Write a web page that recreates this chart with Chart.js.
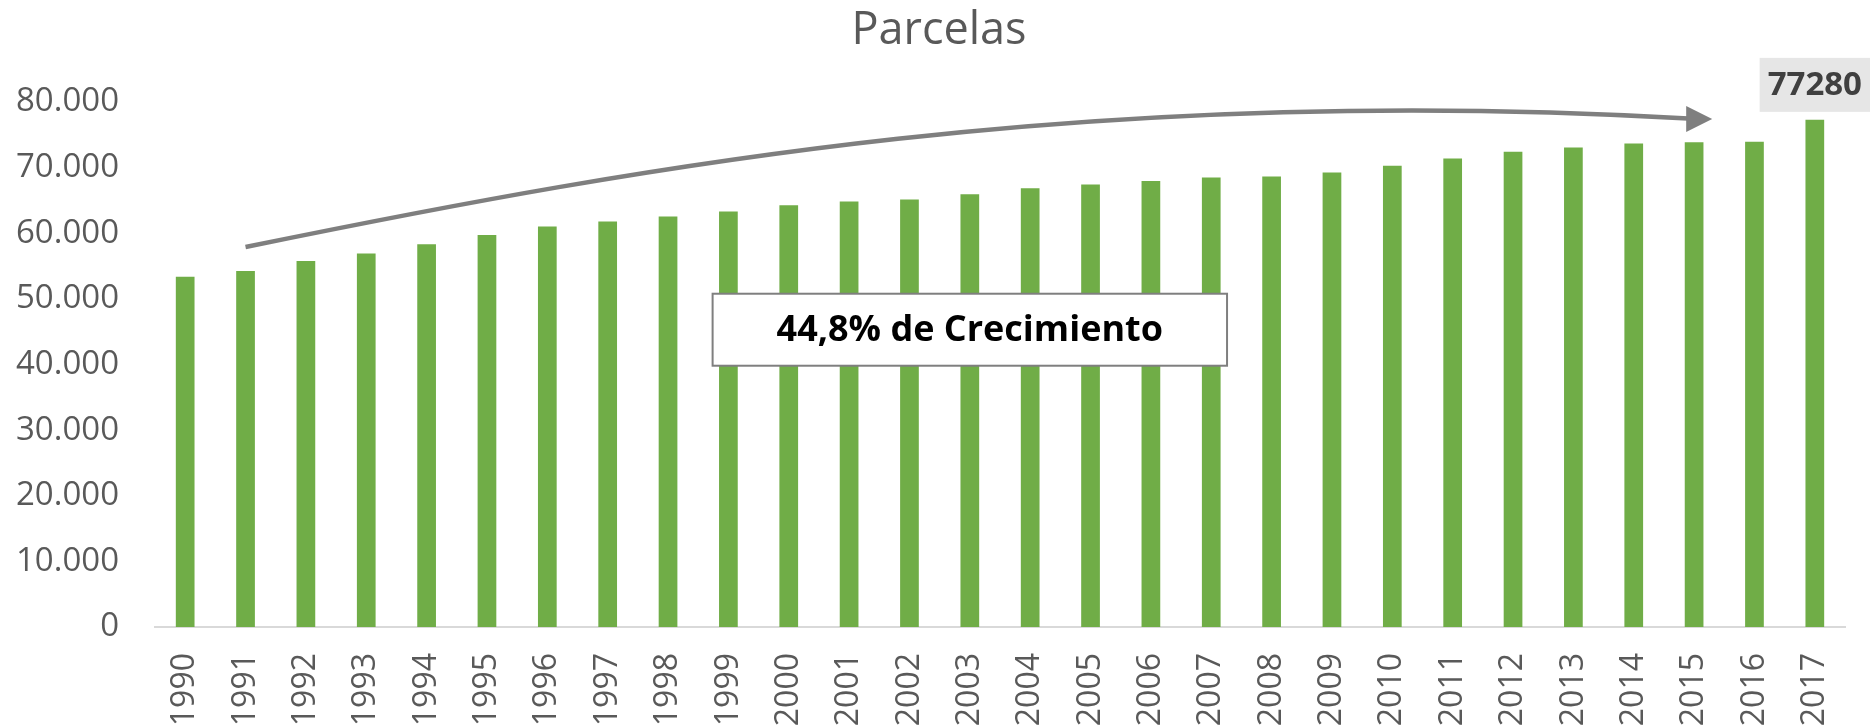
<!DOCTYPE html>
<html>
<head>
<meta charset="utf-8">
<script src="https://cdn.jsdelivr.net/npm/chart.js@4.4.1/dist/chart.umd.min.js"></script>
<style>
  html, body { margin: 0; padding: 0; background: #ffffff; }
  #wrap { width: 1870px; height: 727px; }
</style>
</head>
<body>
<div id="wrap"><canvas id="parcelasChart" width="1870" height="727"></canvas></div>
<script>
// Parcelas por año
const years = ['1990', '1991', '1992', '1993', '1994', '1995', '1996', '1997', '1998', '1999',
               '2000', '2001', '2002', '2003', '2004', '2005', '2006', '2007', '2008', '2009',
               '2010', '2011', '2012', '2013', '2014', '2015', '2016', '2017'];
const parcelas = [53370, 54240, 55770, 56900, 58320, 59740, 61020, 61790, 62550, 63310,
                  64270, 64840, 65140, 65950, 66870, 67430, 67980, 68500, 68650, 69270,
                  70280, 71400, 72410, 73080, 73690, 73850, 73940, 77280];
const yTicks = [0, 10000, 20000, 30000, 40000, 50000, 60000, 70000, 80000];

// annotations (data units: category index, value)
const titleText = 'Parcelas';
const growthText = '44,8% de Crecimiento';
const growthAnchor = [13, 45300];
const arrowPath = [[1, 57900], [7.7, 70530], [15.15, 82750], [25.3, 77400]];

const GREEN = '#70ad47';
const GREY_TEXT = '#595959';

const fmt = v => v === 0 ? '0' : v.toLocaleString('de-DE');

const annotations = {
    id: 'annotations',
    afterDatasetsDraw(chart) {
        const { ctx, scales: { x, y } } = chart;
        const px = p => [x.getPixelForValue(p[0]), y.getPixelForValue(p[1])];
        ctx.save();

        // title
        ctx.font = '45px "Open Sans", sans-serif';
        ctx.fillStyle = GREY_TEXT;
        ctx.textAlign = 'center';
        ctx.textBaseline = 'middle';
        ctx.fillText(titleText, 939, 31);

        // curved growth arrow
        const pts = arrowPath.map(px);
        const end = pts[3];
        const headLen = 26, headHalf = 13;
        ctx.strokeStyle = '#7f7f7f';
        ctx.fillStyle = '#7f7f7f';
        ctx.lineWidth = 4.5;
        ctx.beginPath();
        ctx.moveTo(pts[0][0], pts[0][1]);
        ctx.bezierCurveTo(pts[1][0], pts[1][1], pts[2][0], pts[2][1], end[0] - headLen + 2, end[1] - 0.5);
        ctx.stroke();
        ctx.beginPath();
        ctx.moveTo(end[0], end[1]);
        ctx.lineTo(end[0] - headLen, end[1] - headHalf);
        ctx.lineTo(end[0] - headLen, end[1] + headHalf);
        ctx.closePath();
        ctx.fill();

        // growth box
        const [gx, gy] = px(growthAnchor);
        ctx.font = 'bold 36px "Open Sans", sans-serif';
        const tw = ctx.measureText(growthText).width;
        const bw = tw + 128, bh = 72;
        ctx.fillStyle = '#ffffff';
        ctx.fillRect(gx - bw / 2, gy - bh / 2, bw, bh);
        ctx.strokeStyle = '#7f7f7f';
        ctx.lineWidth = 2;
        ctx.strokeRect(gx - bw / 2, gy - bh / 2, bw, bh);
        ctx.fillStyle = '#000000';
        ctx.fillText(growthText, gx, gy + 1);

        // last value label
        const last = chart.getDatasetMeta(0).data[parcelas.length - 1];
        const label = String(parcelas[parcelas.length - 1]);
        ctx.font = 'bold 33px "Open Sans", sans-serif';
        const lw = ctx.measureText(label).width + 16;
        const lh = 54;
        const ly = last.y - 8 - lh;
        ctx.fillStyle = '#e6e6e6';
        ctx.fillRect(last.x - lw / 2, ly, lw, lh);
        ctx.fillStyle = '#404040';
        ctx.fillText(label, last.x, ly + lh / 2 + 1);

        ctx.restore();
    }
};

new Chart(document.getElementById('parcelasChart').getContext('2d'), {
    type: 'bar',
    data: {
        labels: years,
        datasets: [{
            label: 'Parcelas',
            data: parcelas,
            backgroundColor: GREEN,
            borderWidth: 0,
            barPercentage: 0.31,
            categoryPercentage: 1.0
        }]
    },
    options: {
        responsive: false,
        animation: false,
        devicePixelRatio: 1,
        layout: { padding: { left: 0, right: 25, top: 102, bottom: 0 } },
        plugins: {
            legend: { display: false },
            tooltip: { enabled: false },
            title: { display: false }
        },
        scales: {
            x: {
                grid: { display: false, drawTicks: false },
                border: { display: true, color: '#d9d9d9', width: 2 },
                ticks: {
                    color: GREY_TEXT,
                    font: { family: '"Open Sans", sans-serif', size: 32 },
                    minRotation: 90,
                    maxRotation: 90,
                    padding: 26,
                    autoSkip: false
                },
                afterFit: s => {
                    s.height = 100;
                    s.paddingLeft = 0;
                    s.paddingRight = 0;
                }
            },
            y: {
                min: 0,
                max: 80000,
                afterBuildTicks: s => { s.ticks = yTicks.map(v => ({ value: v })); },
                grid: { display: false, drawTicks: false },
                border: { display: false },
                ticks: {
                    color: GREY_TEXT,
                    font: { family: '"Open Sans", sans-serif', size: 33 },
                    padding: 36,
                    callback: v => fmt(v)
                },
                afterFit: s => {
                    s.width = 155;
                    s.paddingTop = 0;
                    s.paddingBottom = 0;
                }
            }
        }
    },
    plugins: [annotations]
});
</script>
</body>
</html>
